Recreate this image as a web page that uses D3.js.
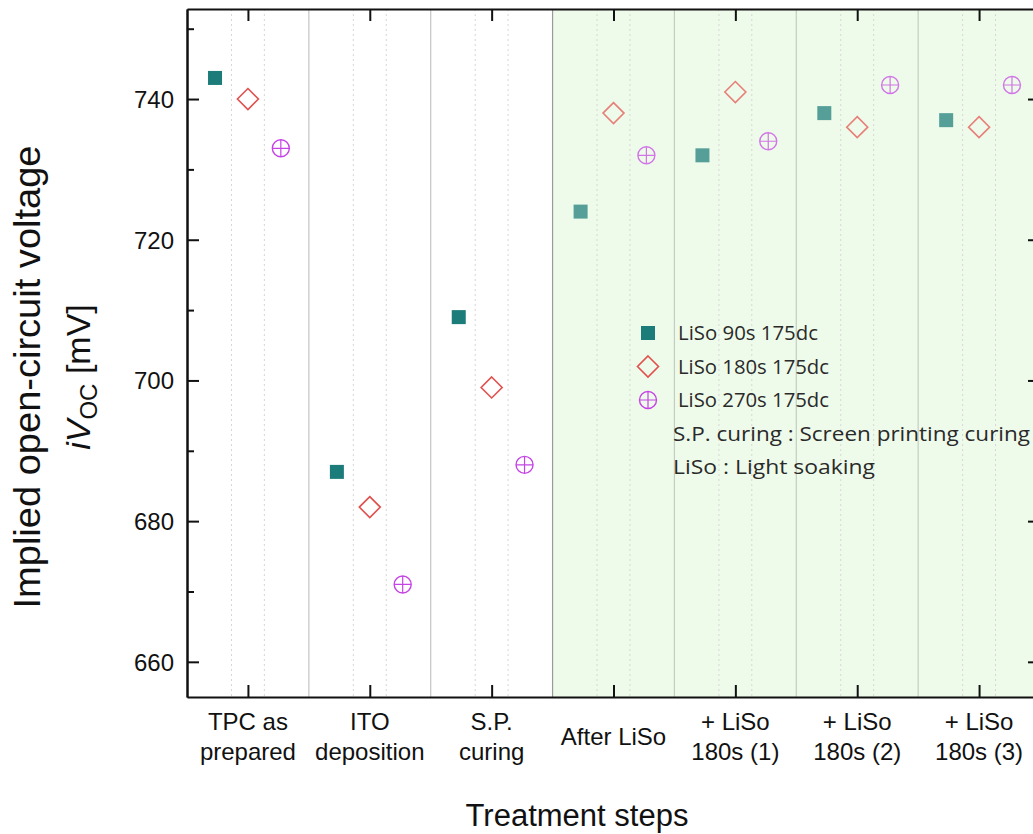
<!DOCTYPE html>
<html>
<head>
<meta charset="utf-8">
<script src="https://cdn.jsdelivr.net/npm/d3@7"></script>
<style>
  body { margin: 0; background: #fff; }
  svg { display: block; overflow: hidden; }
  .axis path, .axis line { stroke: #111; stroke-width: 2; }
  .axis text { font-family: "Liberation Sans", Arial, sans-serif; font-size: 24px; fill: #111; }
</style>
</head>
<body>
<div class="container"></div>
<script>
const WIDTH = 1033;
const HEIGHT = 834;
const MARGIN = {top: 9, left: 187};
const INNER_WIDTH = 853;
const INNER_HEIGHT = 688;

// treatment steps (tick labels, one entry per line)
var steps = [
  ['TPC as', 'prepared'],
  ['ITO', 'deposition'],
  ['S.P.', 'curing'],
  ['After LiSo'],
  ['+ LiSo', '180s (1)'],
  ['+ LiSo', '180s (2)'],
  ['+ LiSo', '180s (3)']
];
var stepKeys = steps.map(function(s){ return s.join(' '); });

// iVoc in mV
var liso90 = [743, 687, 709, 724, 732, 738, 737];
var liso180 = [740, 682, 699, 738, 741, 736, 736];
var liso270 = [733, 671, 688, 732, 734, 742, 742];

var seriesNames = ['LiSo 90s 175dc', 'LiSo 180s 175dc', 'LiSo 270s 175dc'];
var notes = ['S.P. curing : Screen printing curing', 'LiSo : Light soaking'];

var yMajor = [660, 680, 700, 720, 740];
var yMinor = [670, 690, 710, 730, 750];

var TEAL = '#1b7c7a', RED = '#e2504e', VIOLET = '#c644e6';

var translate = function(x, y){
  return 'translate(' + x + ',' + y + ')';
};

var drawSymbol = function (g, type, cx, cy, op) {
  var s = g.append('g').attr('opacity', op || 1);
  if (type === 0) {
    s.append('rect').attr('x', cx - 7).attr('y', cy - 7)
      .attr('width', 14).attr('height', 14).attr('fill', TEAL);
  } else if (type === 1) {
    var r = 10.5;
    s.append('path')
      .attr('d', 'M' + cx + ',' + (cy - r) + 'L' + (cx + r) + ',' + cy + 'L' + cx + ',' + (cy + r) + 'L' + (cx - r) + ',' + cy + 'Z')
      .attr('fill', 'none').attr('stroke', RED).attr('stroke-width', 1.6);
  } else {
    var rc = 8.5;
    s.append('circle').attr('cx', cx).attr('cy', cy).attr('r', rc)
      .attr('fill', 'none').attr('stroke', VIOLET).attr('stroke-width', 1.4);
    s.append('path')
      .attr('d', 'M' + (cx - rc) + ',' + cy + 'H' + (cx + rc) + 'M' + cx + ',' + (cy - rc) + 'V' + (cy + rc))
      .attr('stroke', VIOLET).attr('stroke-width', 1.2);
  }
};

var createChart = function () {
  var svg = d3.select('.container').append('svg')
    .attr('width', WIDTH)
    .attr('height', HEIGHT);

  var x = d3.scalePoint().domain(stepKeys).range([0, INNER_WIDTH]).padding(0.5);
  var step = x.step();
  var y = d3.scaleLinear().domain([655, 752.8]).range([INNER_HEIGHT, 0]);

  var g = svg.append('g').attr('transform', translate(MARGIN.left, MARGIN.top));

  // green shading behind the light-soaking steps
  g.append('rect')
    .attr('x', 3 * step).attr('y', 0)
    .attr('width', INNER_WIDTH - 3 * step).attr('height', INNER_HEIGHT)
    .attr('fill', '#effbea');

  // grid: solid lines between steps, dotted lines beside each step
  d3.range(1, steps.length).forEach(function(i){
    g.append('line').attr('x1', i * step).attr('x2', i * step)
      .attr('y1', 0).attr('y2', INNER_HEIGHT)
      .attr('stroke', i === 3 ? '#9a9a9a' : (i > 3 ? '#c2cfc0' : '#c4c4c4')).attr('stroke-width', 1.2);
  });
  stepKeys.forEach(function(k){
    [-0.135, 0.135].forEach(function(o){
      var px = x(k) + o * step;
      g.append('line').attr('x1', px).attr('x2', px)
        .attr('y1', 0).attr('y2', INNER_HEIGHT)
        .attr('stroke', '#d6d6d6').attr('stroke-width', 1).attr('stroke-dasharray', '2,3');
    });
  });

  // markers (faded inside the shaded steps)
  var offsets = [-0.27, 0, 0.27];
  [liso90, liso180, liso270].forEach(function(values, s){
    values.forEach(function(v, i){
      drawSymbol(g, s, x(stepKeys[i]) + offsets[s] * step, y(v), i >= 3 ? 0.72 : 1);
    });
  });

  // axes
  var left = g.append('g').classed('axis', true)
    .call(d3.axisLeft(y).tickValues(yMajor).tickSize(-12).tickPadding(13).tickSizeOuter(0));
  g.append('g').classed('axis', true)
    .call(d3.axisLeft(y).tickValues(yMinor).tickSize(-7).tickFormat('').tickSizeOuter(0));
  g.append('g').classed('axis', true).attr('transform', translate(INNER_WIDTH, 0))
    .call(d3.axisRight(y).tickValues(yMajor).tickSize(-12).tickFormat('').tickSizeOuter(0));
  g.append('g').classed('axis', true).attr('transform', translate(INNER_WIDTH, 0))
    .call(d3.axisRight(y).tickValues(yMinor).tickSize(-7).tickFormat('').tickSizeOuter(0));
  g.append('g').classed('axis', true)
    .call(d3.axisTop(x).tickSize(-12).tickFormat('').tickSizeOuter(0));
  g.append('g').classed('axis', true).attr('transform', translate(0, INNER_HEIGHT))
    .call(d3.axisBottom(x).tickSize(-12).tickFormat('').tickSizeOuter(0));
  left.selectAll('text').attr('dy', '0.35em');

  // multi-line step labels
  stepKeys.forEach(function(k, i){
    var lines = steps[i];
    var t = g.append('text')
      .attr('x', x(k))
      .attr('text-anchor', 'middle')
      .style('font-family', '"Liberation Sans", Arial, sans-serif')
      .style('font-size', '24px').attr('fill', '#111');
    lines.forEach(function(line, j){
      var yy = INNER_HEIGHT + (lines.length === 1 ? 48 : 33 + j * 30);
      t.append('tspan').attr('x', x(k)).attr('y', yy).text(line);
    });
  });

  // axis titles
  svg.append('text')
    .attr('transform', translate(40, 377) + ' rotate(-90)')
    .attr('text-anchor', 'middle')
    .attr('textLength', 463).attr('lengthAdjust', 'spacingAndGlyphs')
    .style('font-family', '"Liberation Sans", Arial, sans-serif')
    .style('font-size', '36px').attr('fill', '#111')
    .text('Implied open-circuit voltage');
  var t2 = svg.append('text')
    .attr('transform', translate(90, 377) + ' rotate(-90)')
    .attr('text-anchor', 'middle')
    .style('font-family', '"Liberation Sans", Arial, sans-serif')
    .style('font-size', '34px').attr('fill', '#111');
  t2.append('tspan').style('font-style', 'italic').text('iV');
  t2.append('tspan').attr('dy', 7).style('font-size', '24px').text('OC');
  t2.append('tspan').attr('dy', -7).text(' [mV]');

  svg.append('text')
    .attr('x', 577).attr('y', 826)
    .attr('text-anchor', 'middle')
    .style('font-family', '"Liberation Sans", Arial, sans-serif')
    .style('font-size', '31px').attr('fill', '#111')
    .text('Treatment steps');

  // legend
  var lg = svg.append('g').attr('transform', translate(648, 333));
  var nameWidths = [140, 151, 151];
  seriesNames.forEach(function(name, s){
    drawSymbol(lg, s, 0, s * 33.5);
    lg.append('text').attr('x', 30).attr('y', s * 33.5).attr('dy', '0.35em')
      .attr('textLength', nameWidths[s]).attr('lengthAdjust', 'spacingAndGlyphs')
      .style('font-family', '"Open Sans", "Noto Sans", sans-serif')
      .style('font-size', '20px').attr('fill', '#2a2a2a').text(name);
  });
  var noteWidths = [357, 202];
  notes.forEach(function(n, j){
    lg.append('text').attr('x', 25).attr('y', (3 + j) * 33.5).attr('dy', '0.35em')
      .attr('textLength', noteWidths[j]).attr('lengthAdjust', 'spacingAndGlyphs')
      .style('font-family', '"Open Sans", "Noto Sans", sans-serif')
      .style('font-size', '20px').attr('fill', '#2a2a2a').text(n);
  });
};

window.onload = createChart;
</script>
</body>
</html>
